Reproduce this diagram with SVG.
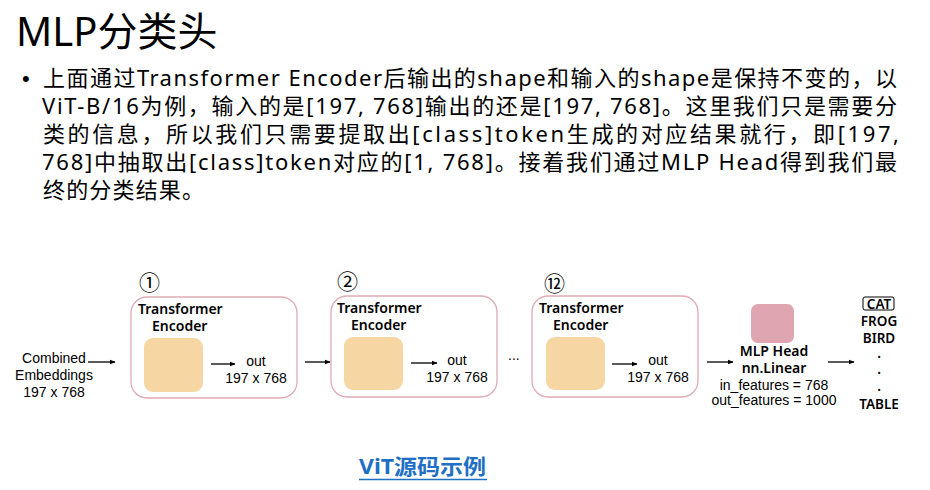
<svg xmlns="http://www.w3.org/2000/svg" width="930" height="490" viewBox="0 0 930 490">
<style>
.title{font-family:"Noto Sans","Noto Sans CJK SC",sans-serif;font-size:40px;fill:#000}
.body{font-family:"Noto Sans","Noto Sans CJK SC",sans-serif;font-size:22px;fill:#000}
.lbl{font-family:"Liberation Sans","Noto Sans",sans-serif;font-size:14px;fill:#000}
.bold{font-family:"Noto Sans","Liberation Sans",sans-serif;font-size:14px;font-weight:600;fill:#000}
.cls{font-family:"Noto Sans","Liberation Sans",sans-serif;font-size:13.5px;font-weight:600;fill:#000}
.enc{fill:#fff;stroke:#e0aab5;stroke-width:1.3}
.core{fill:#f6d6a2}
.num{font-family:"Noto Sans CJK SC","DejaVu Sans",sans-serif;font-size:21px;fill:#000}
.arr{stroke:#000;stroke-width:1.3;fill:none;marker-end:url(#ah)}
.link{font-family:"Noto Sans","Noto Sans CJK SC",sans-serif;font-size:21px;font-weight:bold;fill:#1f6fc5}
</style>
<defs>
<marker id="ah" viewBox="0 0 10 10" refX="9" refY="5" markerWidth="6" markerHeight="6" markerUnits="userSpaceOnUse" orient="auto">
<path d="M0,1 L10,5 L0,9 z" fill="#000"/>
</marker>
</defs>
<rect width="930" height="490" fill="#fff"/>
<text class="title" x="16" y="46">MLP分类头</text>
<g id="paragraph">
<text class="body" x="22" y="86" style="font-family:'Liberation Sans',sans-serif">•</text>
<text class="body" x="43" y="86" textLength="854" lengthAdjust="spacing">上面通过Transformer Encoder后输出的shape和输入的shape是保持不变的，以</text>
<text class="body" x="42" y="114" textLength="855" lengthAdjust="spacing">ViT-B/16为例，输入的是[197, 768]输出的还是[197, 768]。这里我们只是需要分</text>
<text class="body" x="43" y="142" textLength="856" lengthAdjust="spacing">类的信息，所以我们只需要提取出[class]token生成的对应结果就行，即[197,</text>
<text class="body" x="42" y="170" textLength="855" lengthAdjust="spacing">768]中抽取出[class]token对应的[1, 768]。接着我们通过MLP Head得到我们最</text>
<text class="body" x="43" y="198" textLength="161" lengthAdjust="spacing">终的分类结果。</text>
</g>
<g id="input">
<text class="lbl" text-anchor="middle" x="54" y="363">Combined</text>
<text class="lbl" text-anchor="middle" x="54" y="380">Embeddings</text>
<text class="lbl" text-anchor="middle" x="54" y="397">197 x 768</text>
</g>
<g id="encoder1">
<text class="num" x="139" y="290">①</text>
<rect class="enc" x="131" y="297" width="166" height="101" rx="16"/>
<text class="bold" x="138" y="314">Transformer</text>
<text class="bold" x="152" y="331">Encoder</text>
<rect class="core" x="144" y="338" width="59" height="54" rx="9"/>
<text class="lbl" text-anchor="middle" x="256" y="366">out</text>
<text class="lbl" text-anchor="middle" x="256" y="383">197 x 768</text>
</g>
<g id="encoder2">
<text class="num" x="337" y="289">②</text>
<rect class="enc" x="331" y="296" width="166" height="101" rx="16"/>
<text class="bold" x="337" y="313">Transformer</text>
<text class="bold" x="351" y="330">Encoder</text>
<rect class="core" x="344" y="337" width="59" height="53" rx="9"/>
<text class="lbl" text-anchor="middle" x="457" y="365">out</text>
<text class="lbl" text-anchor="middle" x="457" y="382">197 x 768</text>
</g>
<g id="ellipsis">
<text class="lbl" x="508" y="360">...</text>
</g>
<g id="encoder12">
<text class="num" x="544" y="291">⑫</text>
<rect class="enc" x="532" y="296" width="166" height="101" rx="16"/>
<text class="bold" x="539" y="313">Transformer</text>
<text class="bold" x="553" y="330">Encoder</text>
<rect class="core" x="546" y="337" width="59" height="53" rx="9"/>
<text class="lbl" text-anchor="middle" x="658" y="365">out</text>
<text class="lbl" text-anchor="middle" x="658" y="382">197 x 768</text>
</g>
<g id="mlp">
<rect x="751" y="304" width="43" height="39" rx="7" fill="#dfa6b2"/>
<text class="bold" text-anchor="middle" x="774" y="356">MLP Head</text>
<text class="bold" text-anchor="middle" x="774" y="373">nn.Linear</text>
<text class="lbl" text-anchor="middle" x="774" y="390">in_features = 768</text>
<text class="lbl" text-anchor="middle" x="774" y="405">out_features = 1000</text>
</g>
<g id="classes">
<rect x="863" y="297" width="31" height="13" rx="2" fill="none" stroke="#000" stroke-width="1"/>
<text class="cls" text-anchor="middle" x="879" y="309">CAT</text>
<text class="cls" text-anchor="middle" x="879" y="326">FROG</text>
<text class="cls" text-anchor="middle" x="879" y="343">BIRD</text>
<text class="cls" text-anchor="middle" x="879" y="358">.</text>
<text class="cls" text-anchor="middle" x="879" y="374">.</text>
<text class="cls" text-anchor="middle" x="879" y="391">.</text>
<text class="cls" text-anchor="middle" x="879" y="409">TABLE</text>
</g>
<g id="connectors">
<line class="arr" x1="88" y1="362" x2="115" y2="362"/>
<line class="arr" x1="211" y1="364" x2="235" y2="364"/>
<line class="arr" x1="305" y1="362" x2="330" y2="362"/>
<line class="arr" x1="411" y1="363" x2="437" y2="363"/>
<line class="arr" x1="612" y1="364" x2="637" y2="364"/>
<line class="arr" x1="707" y1="362" x2="733" y2="362"/>
<line class="arr" x1="828" y1="362" x2="854" y2="362"/>
</g>
<g id="link">
<text class="link" x="359" y="474" textLength="127" lengthAdjust="spacingAndGlyphs">ViT源码示例</text>
<line x1="359" y1="479.5" x2="487" y2="479.5" stroke="#1f6fc5" stroke-width="1.5"/>
</g>
</svg>
